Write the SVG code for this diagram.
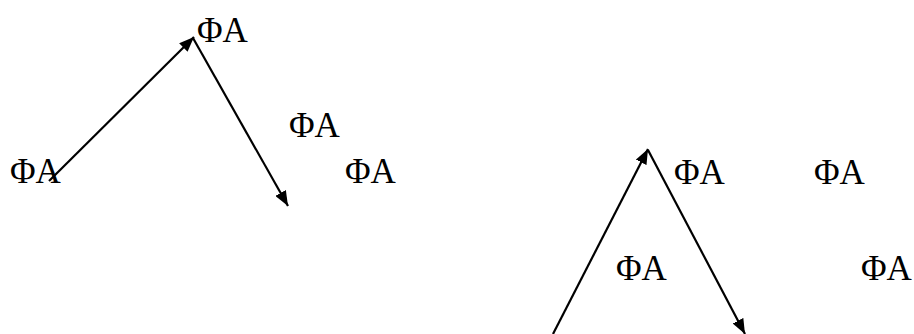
<svg xmlns="http://www.w3.org/2000/svg" width="914" height="334" viewBox="0 0 914 334">
<defs>
<marker id="ah" markerWidth="15" markerHeight="12" refX="15" refY="6" orient="auto" markerUnits="userSpaceOnUse">
<path d="M0,0 L15,6 L0,12 z" fill="#000"/>
</marker>
<style>
.t{font-family:"Liberation Serif","Times New Roman",serif;font-size:35px;fill:#000}
.c{stroke:#000;stroke-width:2.2;fill:none;marker-end:url(#ah)}
</style>
</defs>
<rect width="914" height="334" fill="#fff"/>
<g id="connectors">
<line class="c" x1="49" y1="181" x2="194" y2="37"/>
<line class="c" x1="193" y1="38" x2="288" y2="206"/>
<line class="c" x1="553" y1="334" x2="648" y2="149"/>
<line class="c" x1="648" y1="150" x2="745" y2="334"/>
</g>
<g id="n1"><text class="t" x="197" y="42">ΦA</text></g>
<g id="n2"><text class="t" x="289" y="137">ΦA</text></g>
<g id="n3"><text class="t" x="10" y="183">ΦA</text></g>
<g id="n4"><text class="t" x="345" y="183">ΦA</text></g>
<g id="n5"><text class="t" x="674" y="184">ΦA</text></g>
<g id="n6"><text class="t" x="814" y="184">ΦA</text></g>
<g id="n7"><text class="t" x="616" y="280">ΦA</text></g>
<g id="n8"><text class="t" x="861" y="280">ΦA</text></g>
</svg>
